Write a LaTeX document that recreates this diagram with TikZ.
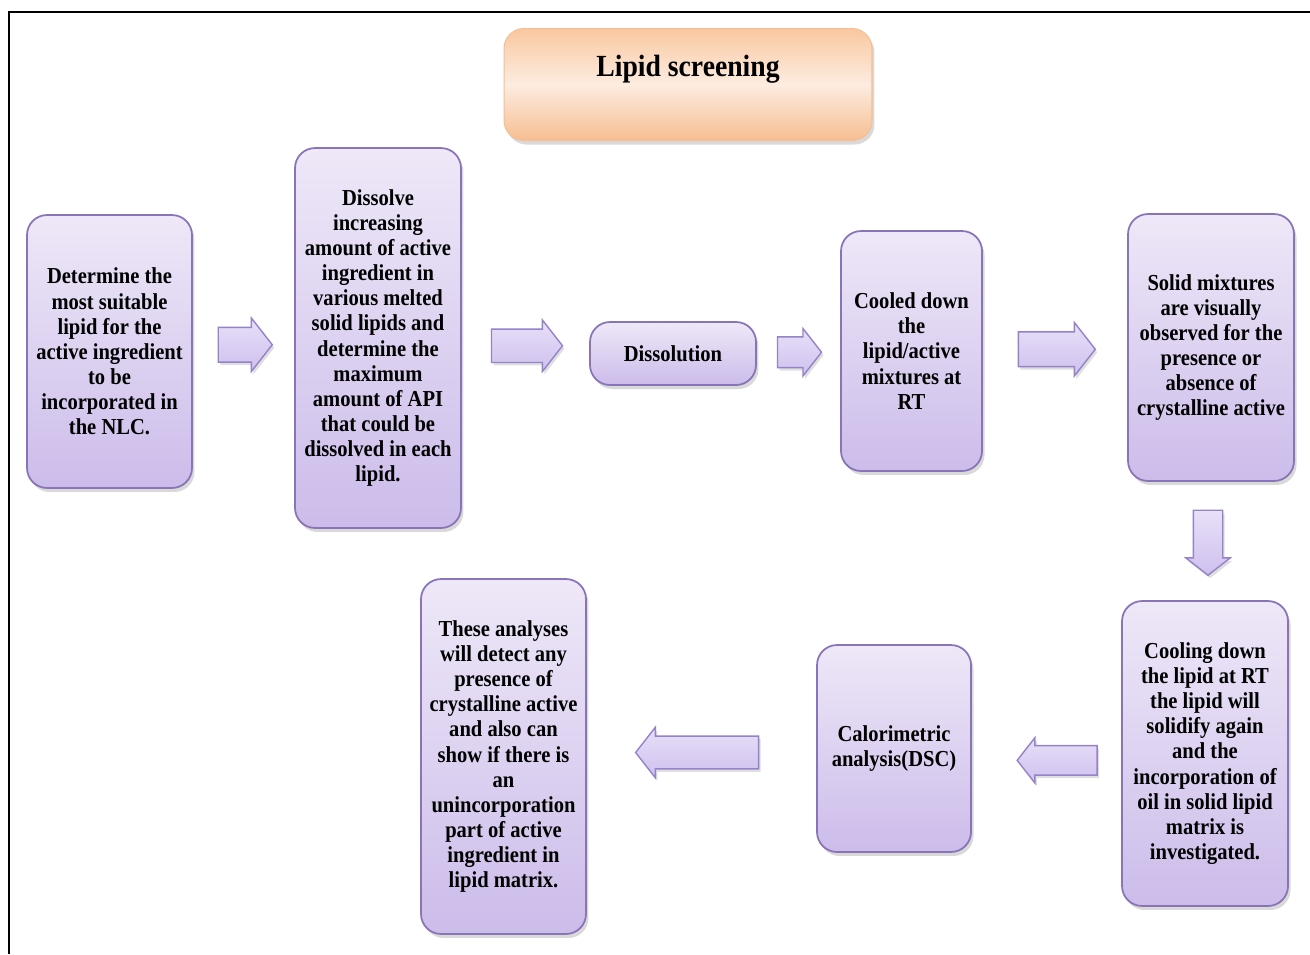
\documentclass[tikz,border=0pt]{standalone}
\usepackage{fontspec}
\setmainfont{Liberation Serif}[FakeStretch=0.9]
\usetikzlibrary{shapes.arrows,shadows,calc}

\definecolor{boxtop}{RGB}{238,232,248}
\definecolor{boxbot}{RGB}{204,188,234}
\definecolor{boxline}{RGB}{138,116,184}
\definecolor{arrtop}{RGB}{232,224,248}
\definecolor{arrbot}{RGB}{206,192,238}
\definecolor{arrline}{RGB}{150,130,200}
\definecolor{peachtop}{RGB}{249,200,160}
\definecolor{peachmid}{RGB}{253,236,224}
\definecolor{peachbot}{RGB}{246,190,146}

\tikzset{
  stepbox/.style={rounded corners=0.4cm, draw=boxline, line width=1pt,
    top color=boxtop, bottom color=boxbot, inner sep=0pt, align=center,
    drop shadow={opacity=0.3, shadow xshift=0.05cm, shadow yshift=-0.08cm},
    font=\bfseries\fontsize{13}{14.3}\selectfont},
  blockarrow/.style={single arrow, draw=arrline, line width=0.8pt,
    top color=arrtop, bottom color=arrbot, inner xsep=0pt,
    minimum width=#1, inner ysep=0.32*#1,
    single arrow head extend=0.18*#1, single arrow tip angle=104,
    drop shadow={opacity=0.25, shadow xshift=0.04cm, shadow yshift=-0.06cm}},
  titlebox/.style={rounded corners=0.4cm, draw=peachbot, line width=0.6pt,
    top color=peachtop, bottom color=peachbot, middle color=peachmid,
    inner sep=0pt, text height=0.96cm, text depth=1.28cm,
    drop shadow={opacity=0.3, shadow xshift=0.05cm, shadow yshift=-0.08cm},
    font=\bfseries\fontsize{17.5}{20}\selectfont}
}

\begin{document}
\begin{tikzpicture}[x=0.02cm, y=-0.02cm]
  \useasboundingbox (0,0) rectangle (1310,954);

  % Cadre
  \draw[line width=1.7pt] (9,954) -- (9,12) -- (1310,12);

  % Titre
  \node[titlebox, minimum width=7.36cm, anchor=north] (title) at (688,28) {Lipid screening};

  % Etapes
  \node[stepbox, minimum width=3.3cm, minimum height=5.46cm] (det) at (109.5,351.5)
    {Determine the\\most suitable\\lipid for the\\active ingredient\\to be\\incorporated in\\the NLC.};
  \node[stepbox, minimum width=3.32cm, minimum height=7.6cm] (diss) at (378,338)
    {Dissolve\\increasing\\amount of active\\ingredient in\\various melted\\solid lipids and\\determine the\\maximum\\amount of API\\that could be\\dissolved in each\\lipid.};
  \node[stepbox, minimum width=3.32cm, minimum height=1.26cm] (dsl) at (673,353.5) {Dissolution};
  \node[stepbox, minimum width=2.82cm, minimum height=4.8cm] (cool) at (911.5,351)
    {Cooled down\\the\\lipid/active\\mixtures at\\RT};
  \node[stepbox, minimum width=3.32cm, minimum height=5.34cm] (solid) at (1211,347.5)
    {Solid mixtures\\are visually\\observed for the\\presence or\\absence of\\crystalline active};
  \node[stepbox, minimum width=3.32cm, minimum height=6.1cm] (chill) at (1205,753.5)
    {Cooling down\\the lipid at RT\\the lipid will\\solidify again\\and the\\incorporation of\\oil in solid lipid\\matrix is\\investigated.};
  \node[stepbox, minimum width=3.08cm, minimum height=4.14cm] (calo) at (894,748.5)
    {Calorimetric\\analysis(DSC)};
  \node[stepbox, minimum width=3.3cm, minimum height=7.1cm] (ana) at (503.5,756.5)
    {These analyses\\will detect any\\presence of\\crystalline active\\and also can\\show if there is\\an\\unincorporation\\part of active\\ingredient in\\lipid matrix.};

  % Fleches
  \node[blockarrow=1.04cm, minimum height=1.08cm, xshift=-0.1cm] (a1)
    at ($(det.east)!0.5!(diss.west)$) {};
  \node[blockarrow=1cm, minimum height=1.42cm, xshift=-0.1cm] (a2)
    at ($(diss.east)!0.5!(dsl.west)$) {};
  \node[blockarrow=0.92cm, minimum height=0.88cm, xshift=-0.1cm] (a3)
    at ($(dsl.east)!0.5!(cool.west)$) {};
  \node[blockarrow=1.04cm, minimum height=1.54cm, xshift=-0.1cm] (a4)
    at ($(cool.east)!0.5!(solid.west)$) {};
  \node[blockarrow=0.84cm, shape border rotate=270, minimum height=1.3cm,
    inner xsep=0.28cm, inner ysep=0pt, yshift=0.08cm] (a5)
    at ($(solid.south)!0.5!(chill.north)$) {};
  \node[blockarrow=0.88cm, shape border rotate=180, minimum height=1.6cm, xshift=0.12cm] (a6)
    at ($(calo.east)!0.57!(chill.west)+(0,9)$) {};
  \node[blockarrow=0.98cm, shape border rotate=180, minimum height=2.46cm, xshift=0.04cm] (a7)
    at ($(ana.east)!0.5!(calo.west)$) {};

\end{tikzpicture}
\end{document}
